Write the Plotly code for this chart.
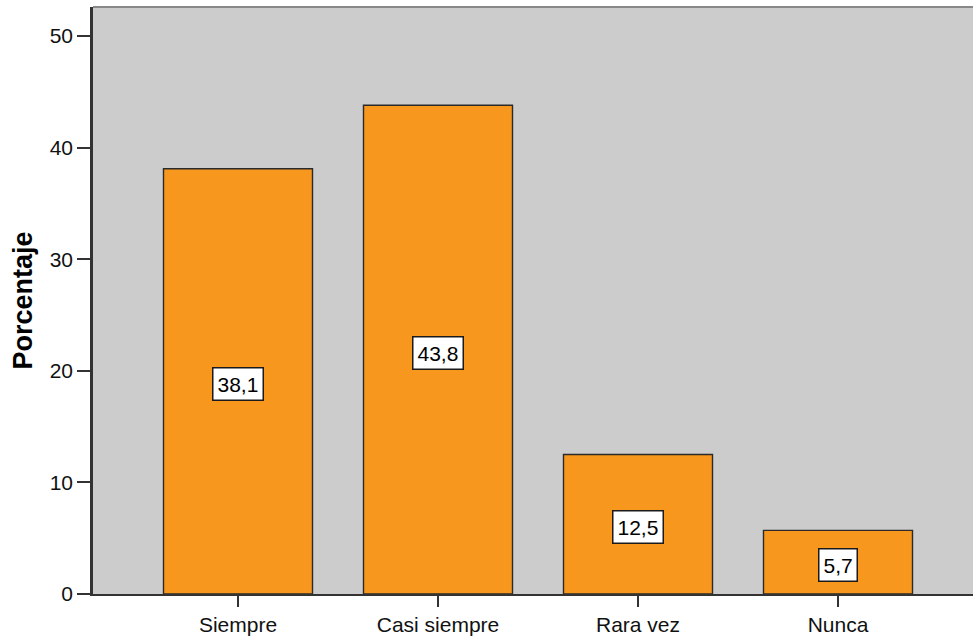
import plotly.graph_objects as go

categories = ["Siempre", "Casi siempre", "Rara vez", "Nunca"]
values = [38.1, 43.8, 12.5, 5.7]
y_ticks = [0, 10, 20, 30, 40, 50]

FONT = "Arial, Liberation Sans, sans-serif"

fig = go.Figure()
fig.add_trace(go.Bar(
    x=list(range(len(categories))),
    y=values,
    width=0.745,
    marker=dict(color="#F7971E", line=dict(color="#2a2a2a", width=1.4)),
    hoverinfo="skip",
))

for i, v in enumerate(values):
    fig.add_annotation(
        x=i, y=v / 2, xref="x", yref="y",
        text=f"{v:.1f}".replace(".", ","),
        showarrow=False, yshift=-3,
        font=dict(family=FONT, size=21, color="#000000"),
        bgcolor="#FFFFFF", bordercolor="#1a1a1a", borderwidth=1.5, borderpad=4,
    )

fig.update_layout(
    width=973, height=636,
    margin=dict(l=93, r=0, t=7, b=40),
    paper_bgcolor="#FFFFFF",
    plot_bgcolor="#CCCCCC",
    showlegend=False,
    font=dict(family=FONT, size=21, color="#000000"),
    xaxis=dict(
        range=[-0.725, 3.675],
        tickmode="array",
        tickvals=list(range(len(categories))),
        ticktext=categories,
        ticks="outside", ticklen=11, tickwidth=1.8, tickcolor="#333333",
        showline=True, linecolor="#333333", linewidth=2, mirror=False,
        showgrid=False, zeroline=False,
        tickfont=dict(family=FONT, size=21, color="#111111"),
    ),
    yaxis=dict(
        range=[0, 52.6],
        tickmode="array",
        tickvals=y_ticks,
        ticks="outside", ticklen=13, tickwidth=1.8, tickcolor="#333333",
        showline=True, linecolor="#333333", linewidth=2.5,
        showgrid=False, zeroline=False,
        tickfont=dict(family=FONT, size=21, color="#111111"),
        title=dict(text="<b>Porcentaje</b>", font=dict(family=FONT, size=27), standoff=10),
    ),
)

fig.add_shape(type="line", xref="paper", yref="paper", x0=0, x1=1, y0=1, y1=1,
              line=dict(color="#888888", width=2))

fig.write_html("out.html")
